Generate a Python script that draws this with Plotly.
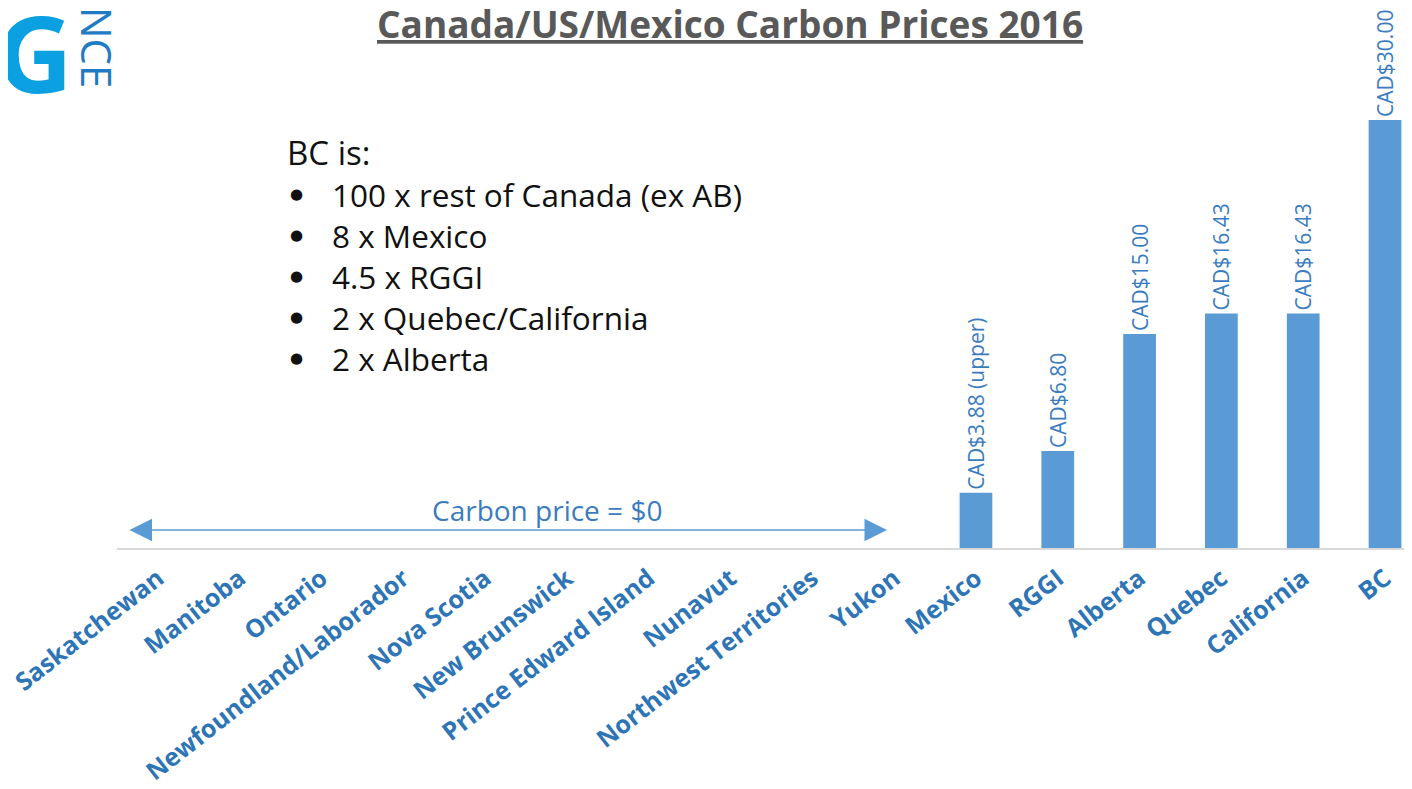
import plotly.graph_objects as go

categories = ["Saskatchewan", "Manitoba", "Ontario", "Newfoundland/Laborador", "Nova Scotia",
              "New Brunswick", "Prince Edward Island", "Nunavut", "Northwest Territories", "Yukon",
              "Mexico", "RGGI", "Alberta", "Quebec", "California", "BC"]
prices = [0, 0, 0, 0, 0, 0, 0, 0, 0, 0, 3.88, 6.80, 15.00, 16.43, 16.43, 30.00]
price_labels = ["", "", "", "", "", "", "", "", "", "",
                "CAD$3.88 (upper)", "CAD$6.80", "CAD$15.00", "CAD$16.43", "CAD$16.43", "CAD$30.00"]
bullet_title = "BC is:"
bullet_lines = ["100 x rest of Canada (ex AB)", "8 x Mexico", "4.5 x RGGI",
                "2 x Quebec/California", "2 x Alberta"]
zero_note = "Carbon price = $0"

OFF = 8  # page body margin
W, H = 1412 - OFF, 789 - OFF
L, R, T, B = 117 - OFF, 0, 0, 241
PW, PH = W - L - R, H - T - B


def px(x):
    return (x - OFF - L) / PW


def py(y):
    return (T + PH - (y - OFF)) / PH


fig = go.Figure()
fig.add_trace(go.Bar(
    x=categories, y=prices, text=price_labels, textposition="outside", textangle=-90,
    constraintext="none", cliponaxis=False,
    textfont=dict(family="Open Sans", size=21, color="#3B7CC0"),
    marker=dict(color="#5B9BD5", line=dict(width=0)),
    width=0.4, hoverinfo="skip",
))

annotations = []
# title
annotations.append(dict(
    x=px(730), y=py(23), xref="paper", yref="paper", showarrow=False,
    text="<b>Canada/US/Mexico Carbon Prices 2016</b>",
    font=dict(family="Open Sans", size=37, color="#595959", lineposition="under"),
    xanchor="center", yanchor="middle"))
# logo pieces
annotations.append(dict(
    x=px(34), y=py(52), xref="paper", yref="paper", showarrow=False, text="<b>G</b>",
    font=dict(family="Open Sans", size=106, color="#0AA0E2"), xanchor="center", yanchor="middle"))
annotations.append(dict(
    x=px(97), y=py(47), xref="paper", yref="paper", showarrow=False, text="NCE", textangle=90,
    font=dict(family="Open Sans", size=42, color="#1F7BC4"), xanchor="center", yanchor="middle"))
# bullet text
annotations.append(dict(
    x=px(285), y=py(153), xref="paper", yref="paper", showarrow=False, text=bullet_title,
    font=dict(family="Open Sans", size=33, color="#111111"), xanchor="left", yanchor="middle"))
for i in range(len(bullet_lines)):
    yy = 194 + i * 41
    annotations.append(dict(
        x=px(296), y=py(yy), xref="paper", yref="paper", showarrow=False, text="●",
        font=dict(family="DejaVu Sans", size=15, color="#111111"), xanchor="center", yanchor="middle"))
annotations.append(dict(
    x=px(330), y=py(276), xref="paper", yref="paper", showarrow=False,
    text="<br>".join(bullet_lines), align="left",
    font=dict(family="Open Sans", size=31.5, color="#111111"), xanchor="left", yanchor="middle"))
# double arrow
annotations.append(dict(
    x=px(887), y=py(530), ax=128 - 887, ay=0, xref="paper", yref="paper",
    axref="pixel", ayref="pixel", text="", showarrow=True, arrowside="end+start",
    arrowhead=2, arrowsize=3, arrowwidth=1.5, arrowcolor="#5B9BD5"))
annotations.append(dict(
    x=px(547), y=py(510), xref="paper", yref="paper", showarrow=False, text=zero_note,
    font=dict(family="Open Sans", size=28, color="#3B7CC0"), xanchor="center", yanchor="middle"))

fig.update_layout(
    width=W, height=H, margin=dict(l=L, r=R, t=T, b=B),
    paper_bgcolor="white", plot_bgcolor="white", showlegend=False,
    annotations=annotations,
    xaxis=dict(range=[-0.5, 15.33], showgrid=False, showline=True, linecolor="#D9D9D9",
               linewidth=2, ticks="", tickangle=-38, automargin=False, ticklabelstandoff=4,
               tickfont=dict(family="Open Sans", size=25, color="#2E75B6", weight="bold")),
    yaxis=dict(range=[0, PH / 14.27], visible=False, showgrid=False, zeroline=False),
)

fig.write_html("out.html")
